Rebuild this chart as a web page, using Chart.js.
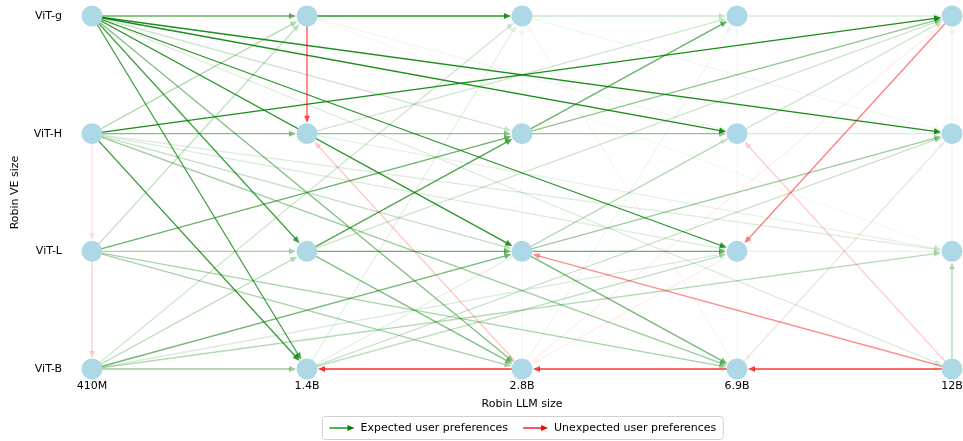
<!DOCTYPE html>
<html>
<head>
<meta charset="utf-8">
<script src="https://cdn.jsdelivr.net/npm/chart.js@4.4.0/dist/chart.umd.min.js"></script>
<style>
  html, body { margin: 0; padding: 0; background: #fff; }
  #wrap { width: 963px; height: 441px; position: relative; }
</style>
</head>
<body>
<div id="wrap"><canvas id="prefChart"></canvas></div>
<script>
// axes
const llmSizes = ['410M', '1.4B', '2.8B', '6.9B', '12B'];
const veSizes = ['ViT-B', 'ViT-L', 'ViT-H', 'ViT-g'];

// edges: [from LLM, from VE, to LLM, to VE, strength]
const expectedEdges = [
    ['410M', 'ViT-g', '1.4B', 'ViT-g', 0.6],
    ['1.4B', 'ViT-g', '2.8B', 'ViT-g', 0.85],
    ['2.8B', 'ViT-g', '6.9B', 'ViT-g', 0.2],
    ['6.9B', 'ViT-g', '12B', 'ViT-g', 0.15],
    ['410M', 'ViT-g', '6.9B', 'ViT-H', 0.9],
    ['410M', 'ViT-g', '12B', 'ViT-H', 0.9],
    ['410M', 'ViT-g', '2.8B', 'ViT-L', 0.85],
    ['410M', 'ViT-g', '6.9B', 'ViT-L', 0.85],
    ['410M', 'ViT-g', '1.4B', 'ViT-L', 0.75],
    ['410M', 'ViT-g', '1.4B', 'ViT-B', 0.75],
    ['410M', 'ViT-g', '2.8B', 'ViT-H', 0.2],
    ['410M', 'ViT-g', '2.8B', 'ViT-B', 0.5],
    ['410M', 'ViT-g', '12B', 'ViT-B', 0.15],
    ['410M', 'ViT-H', '12B', 'ViT-g', 0.9],
    ['410M', 'ViT-H', '1.4B', 'ViT-B', 0.8],
    ['410M', 'ViT-H', '1.4B', 'ViT-H', 0.5],
    ['410M', 'ViT-H', '1.4B', 'ViT-g', 0.3],
    ['410M', 'ViT-H', '6.9B', 'ViT-B', 0.4],
    ['410M', 'ViT-H', '2.8B', 'ViT-L', 0.25],
    ['410M', 'ViT-H', '12B', 'ViT-L', 0.15],
    ['410M', 'ViT-H', '6.9B', 'ViT-L', 0.15],
    ['1.4B', 'ViT-H', '2.8B', 'ViT-H', 0.45],
    ['2.8B', 'ViT-H', '6.9B', 'ViT-H', 0.45],
    ['6.9B', 'ViT-H', '12B', 'ViT-H', 0.15],
    ['410M', 'ViT-L', '2.8B', 'ViT-H', 0.6],
    ['2.8B', 'ViT-H', '12B', 'ViT-g', 0.45],
    ['2.8B', 'ViT-H', '6.9B', 'ViT-g', 0.6],
    ['1.4B', 'ViT-H', '6.9B', 'ViT-g', 0.2],
    ['410M', 'ViT-L', '1.4B', 'ViT-L', 0.35],
    ['1.4B', 'ViT-L', '2.8B', 'ViT-L', 0.6],
    ['2.8B', 'ViT-L', '6.9B', 'ViT-L', 0.6],
    ['6.9B', 'ViT-L', '12B', 'ViT-L', 0.1],
    ['410M', 'ViT-L', '6.9B', 'ViT-B', 0.35],
    ['410M', 'ViT-L', '2.8B', 'ViT-B', 0.35],
    ['410M', 'ViT-L', '1.4B', 'ViT-g', 0.25],
    ['1.4B', 'ViT-L', '2.8B', 'ViT-H', 0.7],
    ['1.4B', 'ViT-L', '2.8B', 'ViT-B', 0.5],
    ['1.4B', 'ViT-L', '12B', 'ViT-g', 0.2],
    ['410M', 'ViT-B', '1.4B', 'ViT-B', 0.4],
    ['410M', 'ViT-B', '2.8B', 'ViT-L', 0.55],
    ['2.8B', 'ViT-L', '12B', 'ViT-H', 0.4],
    ['410M', 'ViT-B', '1.4B', 'ViT-L', 0.3],
    ['410M', 'ViT-B', '2.8B', 'ViT-g', 0.2],
    ['410M', 'ViT-B', '12B', 'ViT-L', 0.3],
    ['410M', 'ViT-B', '6.9B', 'ViT-L', 0.15],
    ['2.8B', 'ViT-L', '6.9B', 'ViT-B', 0.55],
    ['2.8B', 'ViT-L', '12B', 'ViT-g', 0.2],
    ['1.4B', 'ViT-B', '12B', 'ViT-H', 0.25],
    ['1.4B', 'ViT-B', '6.9B', 'ViT-L', 0.25],
    ['1.4B', 'ViT-B', '2.8B', 'ViT-g', 0.12],
    ['1.4B', 'ViT-B', '6.9B', 'ViT-H', 0.12],
    ['1.4B', 'ViT-B', '12B', 'ViT-B', 0.1],
    ['12B', 'ViT-B', '12B', 'ViT-L', 0.3],
    ['1.4B', 'ViT-H', '12B', 'ViT-L', 0.1],
    ['1.4B', 'ViT-g', '6.9B', 'ViT-H', 0.06],
    ['2.8B', 'ViT-g', '12B', 'ViT-H', 0.06],
    ['1.4B', 'ViT-g', '12B', 'ViT-L', 0.05],
    ['2.8B', 'ViT-B', '6.9B', 'ViT-g', 0.07],
    ['6.9B', 'ViT-B', '12B', 'ViT-H', 0.07],
    ['2.8B', 'ViT-B', '2.8B', 'ViT-g', 0.05],
    ['6.9B', 'ViT-B', '6.9B', 'ViT-g', 0.05],
    ['12B', 'ViT-L', '12B', 'ViT-g', 0.08]
];

const unexpectedEdges = [
    ['12B', 'ViT-B', '6.9B', 'ViT-B', 0.75],
    ['6.9B', 'ViT-B', '2.8B', 'ViT-B', 0.75],
    ['2.8B', 'ViT-B', '1.4B', 'ViT-B', 0.8],
    ['1.4B', 'ViT-g', '1.4B', 'ViT-H', 0.7],
    ['12B', 'ViT-g', '6.9B', 'ViT-L', 0.5],
    ['12B', 'ViT-B', '2.8B', 'ViT-L', 0.45],
    ['2.8B', 'ViT-B', '1.4B', 'ViT-H', 0.22],
    ['12B', 'ViT-B', '6.9B', 'ViT-H', 0.2],
    ['410M', 'ViT-H', '410M', 'ViT-L', 0.12],
    ['410M', 'ViT-L', '410M', 'ViT-B', 0.2],
    ['2.8B', 'ViT-B', '12B', 'ViT-g', 0.07],
    ['6.9B', 'ViT-B', '2.8B', 'ViT-g', 0.05],
    ['12B', 'ViT-H', '6.9B', 'ViT-B', 0.07],
    ['6.9B', 'ViT-L', '2.8B', 'ViT-B', 0.07]
];

const GREEN = '0, 128, 0';
const RED = '255, 0, 0';

const nodePoints = [];
llmSizes.forEach((llm, i) => {
    veSizes.forEach((ve, j) => nodePoints.push({ x: i, y: j }));
});

function drawArrow(ctx, x1, y1, x2, y2, rgb, alpha) {
    const dx = x2 - x1, dy = y2 - y1;
    const len = Math.hypot(dx, dy);
    const ux = dx / len, uy = dy / len;
    const tipX = x2 - ux * 11, tipY = y2 - uy * 11;
    const headLen = 7, headW = 3;
    const bx = tipX - ux * headLen, by = tipY - uy * headLen;
    ctx.strokeStyle = `rgba(${rgb}, ${alpha})`;
    ctx.fillStyle = `rgba(${rgb}, ${alpha})`;
    ctx.lineWidth = 1.3;
    ctx.beginPath();
    ctx.moveTo(x1, y1);
    ctx.lineTo(bx + ux, by + uy);
    ctx.stroke();
    ctx.beginPath();
    ctx.moveTo(tipX, tipY);
    ctx.lineTo(bx - uy * headW, by + ux * headW);
    ctx.lineTo(bx + uy * headW, by - ux * headW);
    ctx.closePath();
    ctx.fill();
}

// draws the edges under the nodes
const edgePlugin = {
    id: 'edges',
    beforeDatasetsDraw(chart) {
        const { ctx, scales: { x, y } } = chart;
        const draw = (edges, rgb) => {
            edges.forEach(([l1, v1, l2, v2, a]) => {
                drawArrow(ctx,
                    x.getPixelForValue(llmSizes.indexOf(l1)), y.getPixelForValue(veSizes.indexOf(v1)),
                    x.getPixelForValue(llmSizes.indexOf(l2)), y.getPixelForValue(veSizes.indexOf(v2)),
                    rgb, a);
            });
        };
        ctx.save();
        draw(expectedEdges, GREEN);
        draw(unexpectedEdges, RED);
        ctx.restore();
    }
};

// matplotlib-like legend box with arrow handles
const legendPlugin = {
    id: 'arrowLegend',
    afterDraw(chart) {
        const ctx = chart.ctx;
        const items = [
            { label: 'Expected user preferences', rgb: GREEN },
            { label: 'Unexpected user preferences', rgb: RED }
        ];
        ctx.save();
        ctx.font = '11px "DejaVu Sans"';
        const handle = 25, gap = 6, spacing = 15, padX = 7;
        const widths = items.map(it => ctx.measureText(it.label).width);
        const total = padX * 2 + items.reduce((s, it, i) => s + handle + gap + widths[i], 0) + spacing;
        const cx = (chart.chartArea.left + chart.chartArea.right) / 2;
        const bx = Math.round(cx - total / 2) + 0.5, by = 416.5, bh = 23;
        ctx.fillStyle = 'rgba(255,255,255,0.8)';
        ctx.strokeStyle = '#d0d0d0';
        ctx.lineWidth = 1;
        ctx.beginPath();
        ctx.roundRect(bx, by, total, bh, 3);
        ctx.fill();
        ctx.stroke();
        let xPos = bx + padX;
        const yMid = by + bh / 2;
        items.forEach((it, i) => {
            const x0 = xPos, x1 = xPos + handle;
            ctx.strokeStyle = `rgb(${it.rgb})`;
            ctx.fillStyle = `rgb(${it.rgb})`;
            ctx.lineWidth = 1.3;
            ctx.beginPath();
            ctx.moveTo(x0, yMid);
            ctx.lineTo(x1 - 6, yMid);
            ctx.stroke();
            ctx.beginPath();
            ctx.moveTo(x1, yMid);
            ctx.lineTo(x1 - 7, yMid - 3);
            ctx.lineTo(x1 - 7, yMid + 3);
            ctx.closePath();
            ctx.fill();
            ctx.fillStyle = '#000';
            ctx.textBaseline = 'middle';
            ctx.fillText(it.label, x1 + gap, yMid);
            xPos = x1 + gap + widths[i] + spacing;
        });
        ctx.restore();
    }
};

const fontSpec = { family: '"DejaVu Sans", sans-serif', size: 11 };

new Chart(document.getElementById('prefChart'), {
    type: 'scatter',
    data: {
        datasets: [{
            data: nodePoints,
            backgroundColor: '#add8e6',
            borderWidth: 0,
            pointRadius: 10.5,
            pointHoverRadius: 10.5,
            clip: false
        }]
    },
    options: {
        responsive: true,
        maintainAspectRatio: false,
        animation: false,
        events: [],
        layout: { padding: { left: 0, right: 11, top: 16, bottom: 27 } },
        scales: {
            x: {
                type: 'linear',
                min: 0, max: llmSizes.length - 1,
                border: { display: false },
                grid: { display: false, drawTicks: false },
                ticks: {
                    stepSize: 1,
                    padding: 11,
                    color: '#000',
                    font: fontSpec,
                    maxRotation: 0,
                    callback: v => llmSizes[v]
                },
                title: {
                    display: true,
                    text: 'Robin LLM size',
                    color: '#000',
                    font: fontSpec,
                    padding: { top: 0, bottom: 3 }
                },
                afterFit(scale) {
                    scale.height = 45;
                    scale.paddingLeft = 0;
                    scale.paddingRight = 0;
                }
            },
            y: {
                type: 'linear',
                min: 0, max: veSizes.length - 1,
                border: { display: false },
                grid: { display: false, drawTicks: false },
                ticks: {
                    stepSize: 1,
                    padding: 30,
                    color: '#000',
                    font: fontSpec,
                    callback: v => veSizes[v]
                },
                title: {
                    display: true,
                    text: 'Robin VE size',
                    color: '#000',
                    font: fontSpec,
                    padding: { top: 9, bottom: 0 }
                },
                afterFit(scale) {
                    scale.width = 92;
                    scale.paddingTop = 0;
                    scale.paddingBottom = 0;
                }
            }
        },
        plugins: {
            legend: { display: false },
            tooltip: { enabled: false }
        }
    },
    plugins: [edgePlugin, legendPlugin]
});
</script>
</body>
</html>
